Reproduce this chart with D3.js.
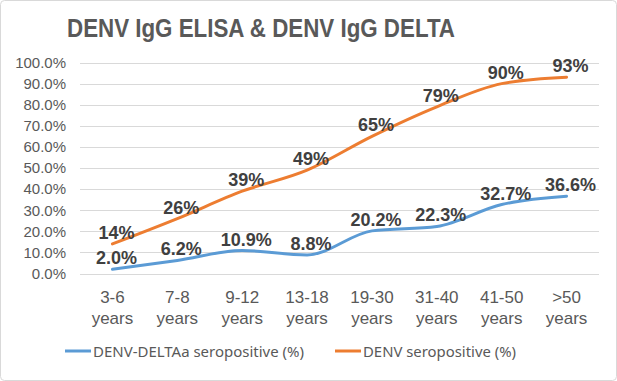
<!DOCTYPE html>
<html>
<head>
<meta charset="utf-8">
<script src="https://cdn.jsdelivr.net/npm/d3@7"></script>
<style>
  body { margin: 0; background: #fff; }
  text { font-family: 'Liberation Sans', Arial, sans-serif; }
</style>
</head>
<body>
<div id="chart"></div>
<script>
// Chart data
var categories = ['3-6 years', '7-8 years', '9-12 years', '13-18 years', '19-30 years', '31-40 years', '41-50 years', '>50 years']
var deltaValues = [2.0, 6.2, 10.9, 8.8, 20.2, 22.3, 32.7, 36.6]
var denvValues = [14, 26, 39, 49, 65, 79, 90, 93]
var yTicks = [0, 10, 20, 30, 40, 50, 60, 70, 80, 90, 100]
var seriesNames = ['DENV-DELTAa seropositive (%)', 'DENV seropositive (%)']

var width = 617
var height = 381
var margin = { top: 62.5, right: 18, bottom: 107.5, left: 80 }

var svg = d3.select('#chart').append('svg')
  .attr('width', width)
  .attr('height', height)

// Outer border
svg.append('rect')
  .attr('x', 0.5).attr('y', 0.5)
  .attr('width', width - 1).attr('height', height - 1)
  .attr('rx', 4)
  .style('fill', '#fff')
  .style('stroke', '#d9d9d9')

// Title
svg.append('text')
  .attr('x', 67)
  .attr('y', 36.5)
  .attr('textLength', 388)
  .attr('lengthAdjust', 'spacingAndGlyphs')
  .style('font-size', '25px')
  .style('font-weight', 'bold')
  .style('fill', '#595959')
  .text('DENV IgG ELISA & DENV IgG DELTA')

var xScale = d3.scaleBand()
  .domain(categories)
  .range([margin.left, width - margin.right])

var yScale = d3.scaleLinear()
  .domain([0, 100])
  .range([height - margin.bottom, margin.top])

// Gridlines
svg.append('g')
  .selectAll('line')
  .data(yTicks)
  .enter().append('line')
  .attr('x1', margin.left)
  .attr('x2', width - margin.right)
  .attr('y1', function (d) { return Math.round(yScale(d)) + 0.5 })
  .attr('y2', function (d) { return Math.round(yScale(d)) + 0.5 })
  .style('stroke', '#d9d9d9')
  .style('stroke-width', '1px')

// Y axis labels
var yAxis = d3.axisLeft(yScale)
  .tickValues(yTicks)
  .tickSize(0)
  .tickPadding(14)
  .tickFormat(function (d) { return d.toFixed(1) + '%' })

svg.append('g')
  .attr('transform', 'translate(' + margin.left + ',0)')
  .call(yAxis)
  .call(function (g) { g.select('.domain').remove() })
  .selectAll('text')
  .style('font-size', '15px')
  .style('font-family', "'Liberation Sans', Arial, sans-serif")
  .style('fill', '#595959')

// X axis labels (two lines)
var xLabels = svg.append('g')
  .selectAll('text')
  .data(categories)
  .enter().append('text')
  .attr('text-anchor', 'middle')
  .attr('transform', function (d) { return 'translate(' + (xScale(d) + xScale.bandwidth() / 2) + ',' + 303 + ')' })
  .style('font-size', '17px')
  .style('fill', '#595959')

xLabels.append('tspan')
  .attr('x', 0)
  .attr('y', 0)
  .text(function (d) { return d.split(' ')[0] })

xLabels.append('tspan')
  .attr('x', 0)
  .attr('y', 21)
  .text(function (d) { return d.split(' ')[1] })

var line = d3.line()
  .x(function (d, i) { return xScale(categories[i]) + xScale.bandwidth() / 2 })
  .y(function (d) { return yScale(d) })
  .curve(d3.curveMonotoneX)

var series = [
  { name: seriesNames[0], values: deltaValues, color: '#5b9bd5', fmt: function (d) { return d.toFixed(1) + '%' }, lx: 65, tl: 211 },
  { name: seriesNames[1], values: denvValues, color: '#ed7d31', fmt: function (d) { return d + '%' }, lx: 335, tl: 153 }
]

series.forEach(function (s) {
  svg.append('path')
    .datum(s.values)
    .attr('d', line)
    .style('fill', 'none')
    .style('stroke', s.color)
    .style('stroke-width', '3px')
    .style('stroke-linecap', 'round')
})

// Data labels
series.forEach(function (s) {
  svg.append('g')
    .selectAll('text')
    .data(s.values)
    .enter().append('text')
    .attr('x', function (d, i) { return xScale(categories[i]) + xScale.bandwidth() / 2 + 4 })
    .attr('y', function (d) { return yScale(d) - 5 })
    .attr('text-anchor', 'middle')
    .style('font-size', '18px')
    .style('font-weight', 'bold')
    .style('fill', '#404040')
    .text(s.fmt)
})

// Legend
var legend = svg.append('g')
  .selectAll('g')
  .data(series)
  .enter().append('g')
  .attr('transform', function (d) { return 'translate(' + d.lx + ',351)' })

legend.append('line')
  .attr('x1', 0).attr('x2', 26)
  .attr('y1', 0).attr('y2', 0)
  .style('stroke', function (d) { return d.color })
  .style('stroke-width', '3px')

legend.append('text')
  .attr('x', 28)
  .attr('y', 5.5)
  .attr('textLength', function (d) { return d.tl })
  .attr('lengthAdjust', 'spacingAndGlyphs')
  .style('font-family', "'Noto Sans', sans-serif")
  .style('font-size', '15px')
  .style('fill', '#595959')
  .text(function (d) { return d.name })
</script>
</body>
</html>
